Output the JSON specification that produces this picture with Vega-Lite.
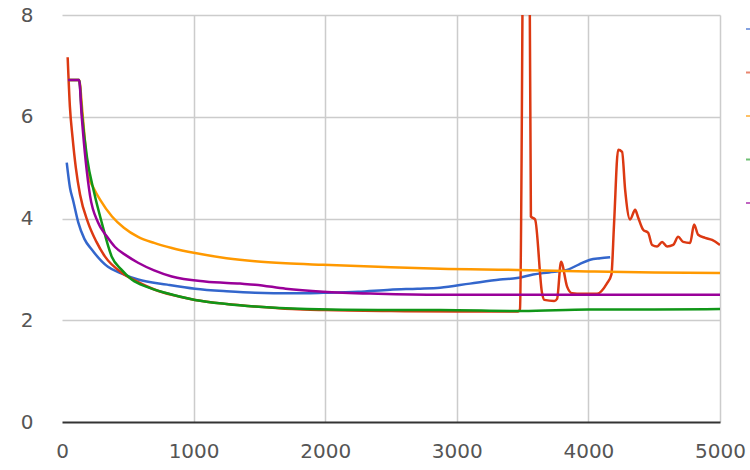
{
  "$schema": "https://vega.github.io/schema/vega-lite/v6.json",
  "width": 658,
  "height": 407,
  "autosize": {"type": "none"},
  "padding": {"left": 62, "top": 15, "right": 30, "bottom": 48},
  "background": "white",
  "config": {"view": {"stroke": null}, "font": "DejaVu Sans"},
  "datasets": {
    "d": [
      {"s": "Series 1", "x": 36, "y": 5.1}, {"s": "Series 1", "x": 61, "y": 4.6}, {"s": "Series 1", "x": 85, "y": 4.35}, {"s": "Series 1", "x": 124, "y": 3.92}, {"s": "Series 1", "x": 170, "y": 3.6}, {"s": "Series 1", "x": 226, "y": 3.39}, {"s": "Series 1", "x": 349, "y": 3.05}, {"s": "Series 1", "x": 450, "y": 2.92}, {"s": "Series 1", "x": 578, "y": 2.8}, {"s": "Series 1", "x": 800, "y": 2.7}, {"s": "Series 1", "x": 1011, "y": 2.62}, {"s": "Series 1", "x": 1250, "y": 2.57}, {"s": "Series 1", "x": 1467, "y": 2.54}, {"s": "Series 1", "x": 1750, "y": 2.53}, {"s": "Series 1", "x": 1984, "y": 2.54}, {"s": "Series 1", "x": 2250, "y": 2.56}, {"s": "Series 1", "x": 2493, "y": 2.6}, {"s": "Series 1", "x": 2700, "y": 2.62}, {"s": "Series 1", "x": 2873, "y": 2.64}, {"s": "Series 1", "x": 3100, "y": 2.72}, {"s": "Series 1", "x": 3329, "y": 2.8}, {"s": "Series 1", "x": 3458, "y": 2.83}, {"s": "Series 1", "x": 3580, "y": 2.9}, {"s": "Series 1", "x": 3700, "y": 2.94}, {"s": "Series 1", "x": 3838, "y": 2.99}, {"s": "Series 1", "x": 3930, "y": 3.1}, {"s": "Series 1", "x": 4013, "y": 3.19}, {"s": "Series 1", "x": 4089, "y": 3.22}, {"s": "Series 1", "x": 4165, "y": 3.24},

      {"s": "Series 2", "x": 43, "y": 7.17}, {"s": "Series 2", "x": 60, "y": 6.2}, {"s": "Series 2", "x": 80, "y": 5.6}, {"s": "Series 2", "x": 105, "y": 5.0}, {"s": "Series 2", "x": 137, "y": 4.47}, {"s": "Series 2", "x": 198, "y": 3.92}, {"s": "Series 2", "x": 260, "y": 3.55}, {"s": "Series 2", "x": 327, "y": 3.25}, {"s": "Series 2", "x": 456, "y": 2.93}, {"s": "Series 2", "x": 580, "y": 2.75}, {"s": "Series 2", "x": 707, "y": 2.6}, {"s": "Series 2", "x": 850, "y": 2.49}, {"s": "Series 2", "x": 1011, "y": 2.4}, {"s": "Series 2", "x": 1250, "y": 2.32}, {"s": "Series 2", "x": 1467, "y": 2.27}, {"s": "Series 2", "x": 1750, "y": 2.22}, {"s": "Series 2", "x": 2000, "y": 2.2}, {"s": "Series 2", "x": 2500, "y": 2.18}, {"s": "Series 2", "x": 3000, "y": 2.17}, {"s": "Series 2", "x": 3466, "y": 2.17}, {"s": "Series 2", "x": 3480, "y": 2.22}, {"s": "Series 2", "x": 3530, "y": 20}, {"s": "Series 2", "x": 3563, "y": 4.04}, {"s": "Series 2", "x": 3595, "y": 3.98}, {"s": "Series 2", "x": 3648, "y": 2.53}, {"s": "Series 2", "x": 3665, "y": 2.4}, {"s": "Series 2", "x": 3740, "y": 2.38}, {"s": "Series 2", "x": 3762, "y": 2.42}, {"s": "Series 2", "x": 3792, "y": 3.15}, {"s": "Series 2", "x": 3838, "y": 2.66}, {"s": "Series 2", "x": 3876, "y": 2.53}, {"s": "Series 2", "x": 3950, "y": 2.52}, {"s": "Series 2", "x": 4066, "y": 2.52}, {"s": "Series 2", "x": 4140, "y": 2.72}, {"s": "Series 2", "x": 4175, "y": 2.9}, {"s": "Series 2", "x": 4195, "y": 3.9}, {"s": "Series 2", "x": 4226, "y": 5.35}, {"s": "Series 2", "x": 4256, "y": 5.31}, {"s": "Series 2", "x": 4279, "y": 4.57}, {"s": "Series 2", "x": 4317, "y": 3.98}, {"s": "Series 2", "x": 4355, "y": 4.17}, {"s": "Series 2", "x": 4378, "y": 4.02}, {"s": "Series 2", "x": 4416, "y": 3.78}, {"s": "Series 2", "x": 4454, "y": 3.72}, {"s": "Series 2", "x": 4484, "y": 3.48}, {"s": "Series 2", "x": 4522, "y": 3.45}, {"s": "Series 2", "x": 4560, "y": 3.54}, {"s": "Series 2", "x": 4598, "y": 3.45}, {"s": "Series 2", "x": 4644, "y": 3.48}, {"s": "Series 2", "x": 4682, "y": 3.64}, {"s": "Series 2", "x": 4720, "y": 3.54}, {"s": "Series 2", "x": 4773, "y": 3.52}, {"s": "Series 2", "x": 4803, "y": 3.88}, {"s": "Series 2", "x": 4834, "y": 3.68}, {"s": "Series 2", "x": 4887, "y": 3.62}, {"s": "Series 2", "x": 4940, "y": 3.58}, {"s": "Series 2", "x": 5000, "y": 3.48},

      {"s": "Series 3", "x": 46, "y": 6.72}, {"s": "Series 3", "x": 130, "y": 6.72}, {"s": "Series 3", "x": 155, "y": 6.1}, {"s": "Series 3", "x": 175, "y": 5.5}, {"s": "Series 3", "x": 198, "y": 4.85}, {"s": "Series 3", "x": 240, "y": 4.6}, {"s": "Series 3", "x": 289, "y": 4.37}, {"s": "Series 3", "x": 380, "y": 4.04}, {"s": "Series 3", "x": 470, "y": 3.82}, {"s": "Series 3", "x": 578, "y": 3.64}, {"s": "Series 3", "x": 700, "y": 3.52}, {"s": "Series 3", "x": 834, "y": 3.42}, {"s": "Series 3", "x": 1011, "y": 3.32}, {"s": "Series 3", "x": 1250, "y": 3.22}, {"s": "Series 3", "x": 1467, "y": 3.16}, {"s": "Series 3", "x": 1700, "y": 3.12}, {"s": "Series 3", "x": 1984, "y": 3.09}, {"s": "Series 3", "x": 2400, "y": 3.05}, {"s": "Series 3", "x": 2873, "y": 3.01}, {"s": "Series 3", "x": 3458, "y": 2.99}, {"s": "Series 3", "x": 4000, "y": 2.96}, {"s": "Series 3", "x": 4500, "y": 2.94}, {"s": "Series 3", "x": 5000, "y": 2.93},

      {"s": "Series 4", "x": 46, "y": 6.72}, {"s": "Series 4", "x": 130, "y": 6.72}, {"s": "Series 4", "x": 150, "y": 6.1}, {"s": "Series 4", "x": 190, "y": 5.2}, {"s": "Series 4", "x": 245, "y": 4.5}, {"s": "Series 4", "x": 302, "y": 3.92}, {"s": "Series 4", "x": 378, "y": 3.25}, {"s": "Series 4", "x": 450, "y": 3.0}, {"s": "Series 4", "x": 530, "y": 2.8}, {"s": "Series 4", "x": 650, "y": 2.65}, {"s": "Series 4", "x": 783, "y": 2.54}, {"s": "Series 4", "x": 1011, "y": 2.4}, {"s": "Series 4", "x": 1250, "y": 2.32}, {"s": "Series 4", "x": 1467, "y": 2.27}, {"s": "Series 4", "x": 1862, "y": 2.22}, {"s": "Series 4", "x": 2400, "y": 2.2}, {"s": "Series 4", "x": 2873, "y": 2.2}, {"s": "Series 4", "x": 3500, "y": 2.18}, {"s": "Series 4", "x": 4000, "y": 2.21}, {"s": "Series 4", "x": 4500, "y": 2.21}, {"s": "Series 4", "x": 5000, "y": 2.22},

      {"s": "Series 5", "x": 46, "y": 6.72}, {"s": "Series 5", "x": 130, "y": 6.72}, {"s": "Series 5", "x": 150, "y": 6.0}, {"s": "Series 5", "x": 213, "y": 4.45}, {"s": "Series 5", "x": 274, "y": 3.92}, {"s": "Series 5", "x": 340, "y": 3.65}, {"s": "Series 5", "x": 403, "y": 3.44}, {"s": "Series 5", "x": 490, "y": 3.27}, {"s": "Series 5", "x": 578, "y": 3.13}, {"s": "Series 5", "x": 700, "y": 2.98}, {"s": "Series 5", "x": 834, "y": 2.86}, {"s": "Series 5", "x": 1087, "y": 2.76}, {"s": "Series 5", "x": 1353, "y": 2.72}, {"s": "Series 5", "x": 1467, "y": 2.7}, {"s": "Series 5", "x": 1700, "y": 2.62}, {"s": "Series 5", "x": 1984, "y": 2.56}, {"s": "Series 5", "x": 2400, "y": 2.52}, {"s": "Series 5", "x": 2873, "y": 2.5}, {"s": "Series 5", "x": 3500, "y": 2.5}, {"s": "Series 5", "x": 4000, "y": 2.5}, {"s": "Series 5", "x": 5000, "y": 2.5}
    ]
  },
  "data": {"name": "d"},
  "mark": {"type": "line", "clip": true, "strokeWidth": 2.5, "interpolate": "monotone"},
  "encoding": {
    "x": {
      "field": "x", "type": "quantitative",
      "scale": {"domain": [0, 5000], "nice": false},
      "axis": {
        "title": null, "values": [0, 1000, 2000, 3000, 4000, 5000], "format": "d",
        "grid": true, "gridColor": "#cccccc", "gridWidth": 1.5,
        "gridOpacity": {"condition": {"test": "datum.value === 0", "value": 0}, "value": 1},
        "ticks": false, "domain": true, "domainColor": "#333333", "domainWidth": 2,
        "labelFont": "DejaVu Sans", "labelFontSize": 20, "labelColor": "#555555",
        "labelPadding": 19, "labelFlush": false, "labelOverlap": false
      }
    },
    "y": {
      "field": "y", "type": "quantitative",
      "scale": {"domain": [0, 8], "nice": false},
      "axis": {
        "title": null, "values": [0, 2, 4, 6, 8],
        "grid": true, "gridColor": "#cccccc", "gridWidth": 1.5,
        "gridOpacity": {"condition": {"test": "datum.value === 0", "value": 0}, "value": 1},
        "ticks": false, "domain": false,
        "labelFont": "DejaVu Sans", "labelFontSize": 20, "labelColor": "#555555",
        "labelPadding": 29
      }
    },
    "color": {
      "field": "s", "type": "nominal",
      "scale": {
        "domain": ["Series 1", "Series 2", "Series 3", "Series 4", "Series 5"],
        "range": ["#3366cc", "#dc3912", "#ff9900", "#109618", "#990099"]
      },
      "legend": {
        "orient": "none", "legendX": 683, "legendY": 3, "title": null,
        "symbolType": "stroke", "symbolSize": 400, "symbolStrokeWidth": 2,
        "symbolOpacity": 0.6, "labelFontSize": 20, "rowPadding": 22.5, "padding": 0
      }
    }
  }
}
